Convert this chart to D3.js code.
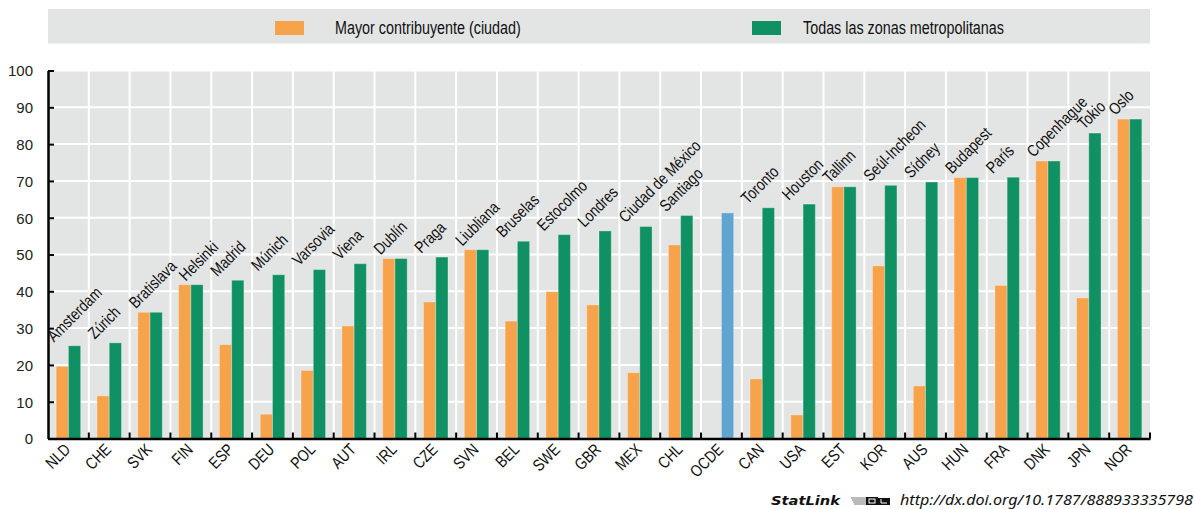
<!DOCTYPE html>
<html lang="es">

<head>
    <meta charset="UTF-8">
    <script src="https://cdn.jsdelivr.net/npm/d3@7"></script>
    <title>Mayor contribuyente y zonas metropolitanas</title>
    <style>
        body {
            margin: 0;
            background: white;
        }

        .narrow {
            font-family: 'Liberation Sans', Arial, sans-serif;
        }

        .ticks text {
            font-family: 'Liberation Sans', Arial, sans-serif;
            font-size: 15px;
            fill: #222;
        }
    </style>
</head>

<body>
    <div class="figure"></div>

    <script>
        const countries = ["NLD", "CHE", "SVK", "FIN", "ESP", "DEU", "POL", "AUT", "IRL", "CZE", "SVN", "BEL", "SWE", "GBR", "MEX", "CHL", "OCDE", "CAN", "USA", "EST", "KOR", "AUS", "HUN", "FRA", "DNK", "JPN", "NOR"]
        const cities = ["Amsterdam", "Zúrich", "Bratislava", "Helsinki", "Madrid", "Múnich", "Varsovia", "Viena", "Dublín", "Praga", "Liubliana", "Bruselas", "Estocolmo", "Londres", "Ciudad de México", "Santiago", "", "Toronto", "Houston", "Tallinn", "Seúl-Incheon", "Sídney", "Budapest", "París", "Copenhague", "Tokio", "Oslo"]
        const largestCity = [19.6, 11.6, 34.3, 41.8, 25.5, 6.6, 18.5, 30.6, 48.9, 37.1, 51.3, 31.9, 39.9, 36.3, 17.9, 52.6, null, 16.2, 6.4, 68.4, 46.9, 14.3, 70.9, 41.6, 75.4, 38.2, 86.8]
        const allMetro = [25.2, 26.0, 34.3, 41.8, 43.0, 44.5, 45.9, 47.5, 48.9, 49.3, 51.3, 53.6, 55.4, 56.4, 57.6, 60.6, 61.3, 62.7, 63.7, 68.4, 68.8, 69.7, 70.9, 71.0, 75.4, 83.0, 86.8]
        const yTicks = [0, 10, 20, 30, 40, 50, 60, 70, 80, 90, 100]
        const legendLabels = ["Mayor contribuyente (ciudad)", "Todas las zonas metropolitanas"]

        const width = 1195
        const height = 509
        const left = 48
        const right = 1150
        const bgGray = "#e3e4e4"
        const orange = "#f7a34b"
        const green = "#0f9163"
        const blue = "#62a4d0"
        // no narrow face installed, so squeeze the regular one
        const squeezeX = 0.82
        const squeeze = `scale(${squeezeX},1)`

        const svg = d3.select(".figure").append("svg")
            .attr("width", width)
            .attr("height", height)

        const x = d3.scaleBand().domain(countries).range([left, right])
        const xInner = d3.scaleBand()
            .domain(["largest", "metro"])
            .range([x.bandwidth() * 0.2, x.bandwidth() * 0.8])
        const y = d3.scaleLinear().domain([0, 100]).range([438.5, 70.5])

        // legend
        svg.append("rect")
            .attr("x", left).attr("y", 9)
            .attr("width", right - left).attr("height", 34.5)
            .attr("fill", bgGray)
        const swatchPos = [275, 752]
        const labelPos = [335, 803]
        const legendColors = [orange, green]
        legendLabels.forEach((label, i) => {
            svg.append("rect")
                .attr("x", swatchPos[i]).attr("y", 21)
                .attr("width", 29).attr("height", 14)
                .attr("fill", legendColors[i])
            svg.append("text")
                .attr("class", "narrow")
                .attr("transform", `translate(${labelPos[i]},34) ${squeeze}`)
                .attr("font-size", 17.5)
                .attr("fill", "#111")
                .text(label)
        })

        // plot area + grid
        svg.append("rect")
            .attr("x", left).attr("y", y(100))
            .attr("width", right - left).attr("height", y(0) - y(100))
            .attr("fill", bgGray)

        svg.append("g").selectAll("line")
            .data(yTicks.slice(1))
            .join("line")
            .attr("x1", left).attr("x2", right)
            .attr("y1", d => y(d)).attr("y2", d => y(d))
            .attr("stroke", "white").attr("stroke-width", 2)

        svg.append("g").selectAll("line")
            .data(countries.slice(1))
            .join("line")
            .attr("x1", d => x(d)).attr("x2", d => x(d))
            .attr("y1", y(100)).attr("y2", y(0))
            .attr("stroke", "white").attr("stroke-width", 2)

        // bars
        const bars = []
        countries.forEach((c, i) => {
            if (largestCity[i] !== null) bars.push({ country: c, key: "largest", value: largestCity[i] })
            bars.push({ country: c, key: "metro", value: allMetro[i] })
        })

        svg.append("g").selectAll("rect")
            .data(bars)
            .join("rect")
            .attr("x", d => x(d.country) + xInner(d.key))
            .attr("width", xInner.bandwidth())
            .attr("y", d => y(d.value))
            .attr("height", d => y(0) - y(d.value))
            .attr("fill", d => d.key === "largest" ? orange : (d.country === "OCDE" ? blue : green))
            .attr("stroke", "white")
            .attr("stroke-opacity", 0.3)
            .attr("stroke-width", 1)

        // city labels above each pair, nudged right when they would run into the previous one
        let prev = null
        svg.append("g").selectAll("text")
            .data(countries.filter((c, i) => cities[i] !== ""))
            .join("text")
            .attr("class", "narrow")
            .attr("font-size", 16.5)
            .attr("fill", "#111")
            .text(d => cities[countries.indexOf(d)])
            .each(function (d) {
                const i = countries.indexOf(d)
                let ax = x(d) + 6
                const ay = y(Math.max(largestCity[i] || 0, allMetro[i])) - 3
                if (prev) {
                    const dx = ax - prev.x, dy = ay - prev.y
                    const gap = (dx + dy) / Math.SQRT2
                    const along = (dx - dy) / Math.SQRT2
                    if (gap < 16 && along < prev.len) ax += (16 - gap) * Math.SQRT2
                }
                d3.select(this).attr("transform", `translate(${ax},${ay}) rotate(-45) ${squeeze}`)
                prev = { x: ax, y: ay, len: this.getComputedTextLength() * squeezeX }
            })

        // axes
        const yAxis = svg.append("g")
            .attr("class", "ticks")
            .attr("transform", `translate(${left},0)`)
            .call(d3.axisLeft(y).tickValues(yTicks).tickSizeInner(-6).tickSizeOuter(0).tickPadding(15))
        yAxis.attr("font-family", null).attr("font-size", null)
        yAxis.select(".domain").attr("stroke", "black").attr("stroke-width", 2.5)
        yAxis.selectAll(".tick line").attr("stroke", "black").attr("stroke-width", 2)
        yAxis.selectAll(".tick text").attr("dy", "0.36em")

        const xAxis = svg.append("g")
            .attr("transform", `translate(0,${y(0)})`)
            .call(d3.axisBottom(x).tickSize(0))
        xAxis.attr("font-family", null).attr("font-size", null)
        xAxis.select(".domain").attr("stroke", "black").attr("stroke-width", 2.5)
        xAxis.selectAll(".tick text")
            .attr("class", "narrow")
            .attr("font-size", 16.5)
            .attr("fill", "#111")
            .attr("x", 0).attr("y", 0).attr("dy", 0)
            .attr("text-anchor", "end")
            .attr("transform", `translate(3,12) rotate(-45) ${squeeze}`)

        svg.append("g").selectAll("line")
            .data(countries.slice(1).map(c => x(c)).concat([right]))
            .join("line")
            .attr("x1", d => d).attr("x2", d => d)
            .attr("y1", y(0)).attr("y2", y(0) - 6)
            .attr("stroke", "black").attr("stroke-width", 2)

        // statlink footer
        svg.append("text")
            .attr("x", 771).attr("y", 505)
            .attr("font-family", "'DejaVu Sans', Verdana, sans-serif")
            .attr("font-weight", "bold").attr("font-style", "italic")
            .attr("font-size", 11.5)
            .attr("textLength", 69).attr("lengthAdjust", "spacingAndGlyphs")
            .attr("fill", "#111")
            .text("StatLink")
        const icon = svg.append("g").attr("transform", "translate(851,497)")
        d3.range(4).forEach(k => {
            icon.append("line")
                .attr("x1", 0 + k).attr("x2", 15)
                .attr("y1", 1 + k * 2).attr("y2", 1 + k * 2)
                .attr("stroke", "#777").attr("stroke-width", 1)
        })
        icon.append("rect").attr("x", 15).attr("y", 0).attr("width", 12).attr("height", 8).attr("fill", "#111")
        icon.append("rect").attr("x", 27).attr("y", 1).attr("width", 12).attr("height", 7).attr("fill", "#111")
        icon.append("rect").attr("x", 18).attr("y", 2).attr("width", 6).attr("height", 4).attr("fill", "none").attr("stroke", "white")
        icon.append("path").attr("d", "M30,2V6H36").attr("fill", "none").attr("stroke", "white")
        svg.append("text")
            .attr("x", 900).attr("y", 505)
            .attr("font-family", "'Noto Sans', 'DejaVu Sans', sans-serif")
            .attr("font-style", "italic")
            .attr("font-size", 14)
            .attr("textLength", 293).attr("lengthAdjust", "spacingAndGlyphs")
            .attr("fill", "#111")
            .text("http://dx.doi.org/10.1787/888933335798")
    </script>
</body>

</html>
